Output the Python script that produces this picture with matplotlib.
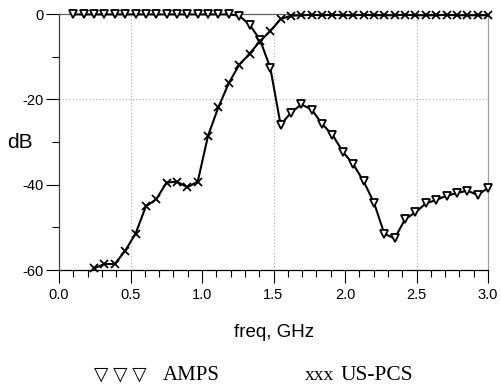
import matplotlib
matplotlib.use("Agg")
import matplotlib.pyplot as plt
from matplotlib.ticker import MultipleLocator, FormatStrFormatter

plt.rcParams['font.family'] = ['Liberation Sans', 'DejaVu Sans']
plt.rcParams['axes.unicode_minus'] = False

# sample frequencies (GHz)
freq = [0.1, 0.1725, 0.245, 0.3175, 0.39, 0.4625, 0.535, 0.6075, 0.68, 0.7525,
        0.825, 0.8975, 0.97, 1.0425, 1.115, 1.1875, 1.26, 1.3325, 1.405, 1.4775,
        1.55, 1.6225, 1.695, 1.7675, 1.84, 1.9125, 1.985, 2.0575, 2.13, 2.2025,
        2.275, 2.3475, 2.42, 2.4925, 2.565, 2.6375, 2.71, 2.7825, 2.855, 2.9275, 3.0]

# AMPS response (dB)
amps_db = [-0.1, -0.1, -0.1, -0.1, -0.1, -0.1, -0.1, -0.1, -0.1, -0.1,
           -0.1, -0.1, -0.1, -0.1, -0.1, -0.1, -0.4, -2.5, -6.0, -12.6,
           -26.0, -23.1, -21.2, -22.4, -25.8, -28.3, -32.3, -35.2, -39.2, -44.2,
           -51.5, -52.6, -48.1, -46.5, -44.4, -43.6, -42.6, -42.0, -41.4, -42.4, -40.8]

# US-PCS response (dB), starts at the 3rd frequency
pcs_freq = freq[2:]
pcs_db = [-59.6, -58.6, -58.6, -55.5, -51.5, -45.1, -43.4, -39.5, -39.3, -40.6,
          -39.3, -28.5, -21.8, -16.2, -11.9, -9.3, -6.4, -4.0, -1.2,
          -0.4, -0.3, -0.2, -0.3, -0.2, -0.3, -0.3, -0.2, -0.3, -0.3,
          -0.3, -0.2, -0.3, -0.3, -0.3, -0.2, -0.3, -0.3, -0.3, -0.3]

xticks = [0.0, 0.5, 1.0, 1.5, 2.0, 2.5, 3.0]
yticks = [0, -20, -40, -60]

fig = plt.figure(figsize=(5.01, 3.85), dpi=100)
ax = fig.add_axes([59/501, 1 - 270/385, 429/501, 256/385])

# faint dotted grid, as seen in the scan
for gx in [0.5, 1.5, 2.5]:
    ax.axvline(gx, color='#b0b0b0', lw=0.8, ls=(0, (1, 2)), zorder=0)
ax.axhline(-20, color='#b0b0b0', lw=0.8, ls=(0, (1, 2)), zorder=0)

ax.plot(freq, amps_db, color='black', lw=1.5, marker='v', ms=5.5,
        mfc='white', mec='black', mew=1.3, clip_on=False, zorder=3)
ax.plot(pcs_freq, pcs_db, color='black', lw=1.5, marker='x', ms=6,
        mec='black', mew=1.3, clip_on=False, zorder=3)

ax.set_xlim(0, 3.0)
ax.set_ylim(-60, 0)
ax.set_xticks(xticks)
ax.set_yticks(yticks)
ax.xaxis.set_major_formatter(FormatStrFormatter('%.1f'))
ax.xaxis.set_minor_locator(MultipleLocator(0.1))
ax.yaxis.set_minor_locator(MultipleLocator(10))
ax.tick_params(which='major', direction='out', length=9.5, width=0.8, labelsize=10.5)
ax.tick_params(axis='y', which='major', pad=1.5)
ax.tick_params(axis='x', which='major', pad=3.5)
ax.tick_params(which='minor', direction='out', length=5, width=0.8)

ax.spines['left'].set_color('#404040')
ax.spines['top'].set_color('#606060')
ax.spines['right'].set_color('#a0a0a0')
ax.spines['right'].set_linestyle((0, (1, 1)))
for s in ax.spines.values():
    s.set_linewidth(0.9)

fig.text(20/501, 1 - 142/385, 'dB', ha='center', va='center', fontsize=15)
fig.text(274/501, 1 - 337/385, 'freq, GHz', ha='center', va='baseline', fontsize=13.5)

# legend drawn as plain text, like the original caption
legend_font = ['Liberation Serif', 'DejaVu Sans']
base_y = 1 - 380/385
fig.text(94/501, base_y, '\u25bd \u25bd \u25bd', ha='left', va='baseline',
         fontsize=13.5, family=legend_font)
fig.text(163/501, base_y, 'AMPS', ha='left', va='baseline',
         fontsize=15, family=legend_font)
fig.text(305/501, base_y, 'xxx', ha='left', va='baseline',
         fontsize=14, family=legend_font)
fig.text(341/501, base_y, 'US-PCS', ha='left', va='baseline',
         fontsize=15.5, family=legend_font)

fig.savefig('out.png', dpi=100)
